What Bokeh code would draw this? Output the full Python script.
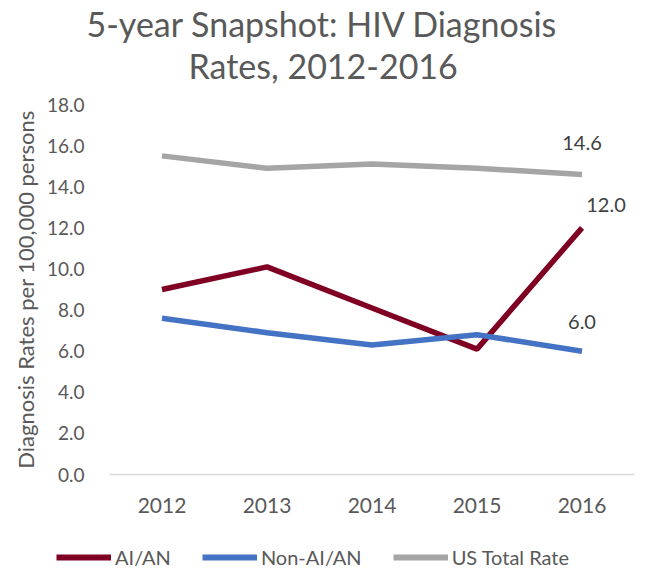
from bokeh.plotting import figure
from bokeh.layouts import column
from bokeh.models import Range1d, FactorRange, FixedTicker, NumeralTickFormatter, Legend, LegendItem, Title
from bokeh.core.properties import value
from bokeh.embed import file_html
from bokeh.resources import INLINE

years = ["2012", "2013", "2014", "2015", "2016"]
aian = [9.0, 10.1, 8.1, 6.1, 12.0]
non_aian = [7.6, 6.9, 6.3, 6.8, 6.0]
us_total = [15.5, 14.9, 15.1, 14.9, 14.6]
y_ticks = [0, 2, 4, 6, 8, 10, 12, 14, 16, 18]
title_lines = ["5-year Snapshot: HIV Diagnosis", "Rates, 2012-2016"]
series_names = ["AI/AN", "Non-AI/AN", "US Total Rate"]
series_values = [aian, non_aian, us_total]
colors = ["#7f0022", "#4472c4", "#a5a5a5"]

FONT = "Lato"
GRAY = "#595959"

p = figure(width=645, height=546,
           x_range=FactorRange(*years), y_range=Range1d(0, 18),
           output_backend="svg", toolbar_location=None,
           min_border_left=109, min_border_right=11,
           min_border_top=104, min_border_bottom=72)
p.frame_align = False

p.title.text = title_lines[0]
p.title.align = "left"
p.title.offset = -23
p.title.text_font = FONT
p.title.text_font_size = "34px"
p.title.text_font_style = "normal"
p.title.text_color = GRAY
p.title.standoff = -41
t2 = Title(text=title_lines[1], align="left", offset=79, text_font=FONT, text_font_size="34px",
           text_font_style="normal", text_color=GRAY, standoff=38)
p.add_layout(t2, "above")

p.outline_line_color = None
p.xgrid.grid_line_color = None
p.ygrid.grid_line_color = None

p.xaxis.axis_line_color = "#d9d9d9"
p.xaxis.axis_line_width = 1.5
p.xaxis.major_tick_line_color = None
p.xaxis.major_tick_out = 0
p.xaxis.minor_tick_line_color = None
p.xaxis.major_label_text_font = FONT
p.xaxis.major_label_text_font_size = "21px"
p.xaxis.major_label_text_color = GRAY
p.xaxis.major_label_standoff = 23

p.yaxis.ticker = FixedTicker(ticks=y_ticks)
p.yaxis.formatter = NumeralTickFormatter(format="0.0")
p.yaxis.axis_line_color = None
p.yaxis.major_tick_line_color = None
p.yaxis.major_tick_out = 0
p.yaxis.minor_tick_line_color = None
p.yaxis.major_label_text_font = FONT
p.yaxis.major_label_text_font_size = "19px"
p.yaxis.major_label_text_color = GRAY
p.yaxis.major_label_standoff = 25
p.yaxis.axis_label = "Diagnosis Rates per 100,000 persons"
p.yaxis.axis_label_text_font = FONT
p.yaxis.axis_label_text_font_size = "22px"
p.yaxis.axis_label_text_font_style = "normal"
p.yaxis.axis_label_text_color = GRAY
p.yaxis.axis_label_standoff = 5

for vals, col in zip(series_values, colors):
    p.line(years, vals, line_color=col, line_width=5.5)

last = [us_total[-1], aian[-1], non_aian[-1]]
p.text(x=[years[-1]] * 3, y=last, text=[f"{v:.1f}" for v in last],
       x_offset=[0, 24, 0], y_offset=[-31, -23, -29],
       text_align="center", text_baseline="middle",
       text_font=value(FONT), text_font_size="20px", text_color="#404040")

# legend strip below the chart
lf = figure(width=645, height=25, x_range=FactorRange(*years), y_range=Range1d(0, 18),
            x_axis_location=None, y_axis_location=None,
            output_backend="svg", toolbar_location=None, min_border=0)
lf.frame_align = False
lf.outline_line_color = None
lf.xgrid.grid_line_color = None
lf.ygrid.grid_line_color = None
items = []
for name, vals, col in zip(series_names, series_values, colors):
    r = lf.line(years, vals, line_color=col, line_width=6, visible=False)
    items.append(LegendItem(label=name, renderers=[r]))
legend = Legend(items=items, orientation="horizontal", location=(56, 2),
                glyph_width=55, glyph_height=20, label_standoff=4, spacing=31,
                padding=0, margin=0, inactive_fill_alpha=0,
                label_text_font=FONT, label_text_font_size="20px", label_text_color=GRAY,
                border_line_alpha=0, background_fill_alpha=0)
lf.add_layout(legend)

open("out.html", "w").write(file_html(column(p, lf, spacing=0), INLINE))
